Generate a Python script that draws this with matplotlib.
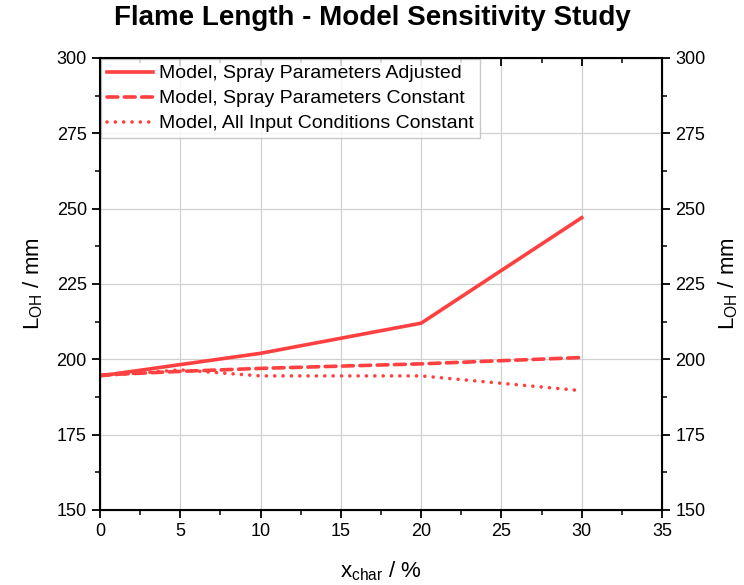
import matplotlib
matplotlib.use("Agg")
import matplotlib.pyplot as plt
from matplotlib.ticker import MultipleLocator

plt.rcParams['font.family'] = ['Liberation Sans', 'DejaVu Sans']

x_adj = [0, 10, 20, 30]
y_adj = [194.5, 202, 212, 247]
x_const = [0, 5, 10, 20, 30]
y_spray_const = [194.8, 196.0, 197.0, 198.5, 200.6]
y_all_const = [194.5, 196.5, 194.5, 194.5, 189.6]
labels = ["Model, Spray Parameters Adjusted",
          "Model, Spray Parameters Constant",
          "Model, All Input Conditions Constant"]
color = "#FF4040"

fig = plt.figure(figsize=(7.44, 5.85), dpi=100)
ax = fig.add_axes([100/744, 1-510/585, 562/744, 452/585])
ax.plot(x_adj, y_adj, color=color, lw=2.6, ls='-', label=labels[0])
ax.plot(x_const, y_spray_const, color=color, lw=2.6, ls=(0, (3.0, 1.8)),
        dash_capstyle='round', label=labels[1])
ax.plot(x_const, y_all_const, color=color, lw=2.6, ls=(0, (0.01, 2.3)),
        dash_capstyle='round', label=labels[2])

ax.set_xlim(0, 35)
ax.set_ylim(150, 300)
ax.xaxis.set_major_locator(MultipleLocator(5))
ax.xaxis.set_minor_locator(MultipleLocator(2.5))
ax.yaxis.set_major_locator(MultipleLocator(25))
ax.yaxis.set_minor_locator(MultipleLocator(12.5))
ax.grid(True, which='major', color='#d0d0d0', lw=0.9)
ax.tick_params(which='major', direction='out', length=6, width=1.3, labelsize=13)
ax.tick_params(which='minor', direction='out', length=3.5, width=1.1)
ax.tick_params(top=True, which='both')
for s in ax.spines.values():
    s.set_linewidth(1.5)
# top ticks point inward
for t in ax.xaxis.get_major_ticks() + ax.xaxis.get_minor_ticks():
    t.tick2line.set_marker(3)

ax2 = ax.twinx()
ax2.set_ylim(150, 300)
ax2.yaxis.set_major_locator(MultipleLocator(25))
ax2.yaxis.set_minor_locator(MultipleLocator(12.5))
ax2.tick_params(which='major', direction='out', length=6, width=1.3, labelsize=13)
ax2.tick_params(which='minor', direction='out', length=3.5, width=1.1)
ax2.set_ylabel("L$_\\mathregular{OH}$ / mm", fontsize=16, labelpad=8)

ax.set_ylabel("L$_\\mathregular{OH}$ / mm", fontsize=16, labelpad=8)
ax.set_xlabel("x$_\\mathregular{char}$ / %", fontsize=16, labelpad=14)

leg = ax.legend(loc='upper left', fontsize=14, frameon=True, fancybox=False,
                edgecolor='#bbbbbb', handlelength=2.4, borderpad=0.3,
                labelspacing=0.38, handletextpad=0.3, borderaxespad=0.05)
leg.get_frame().set_linewidth(1.0)
leg.set_zorder(5)

fig.text(0.5, 1-18/585, "Flame Length - Model Sensitivity Study", ha='center', va='center',
         fontsize=20, fontweight='bold')

fig.savefig("out.png", dpi=100)
